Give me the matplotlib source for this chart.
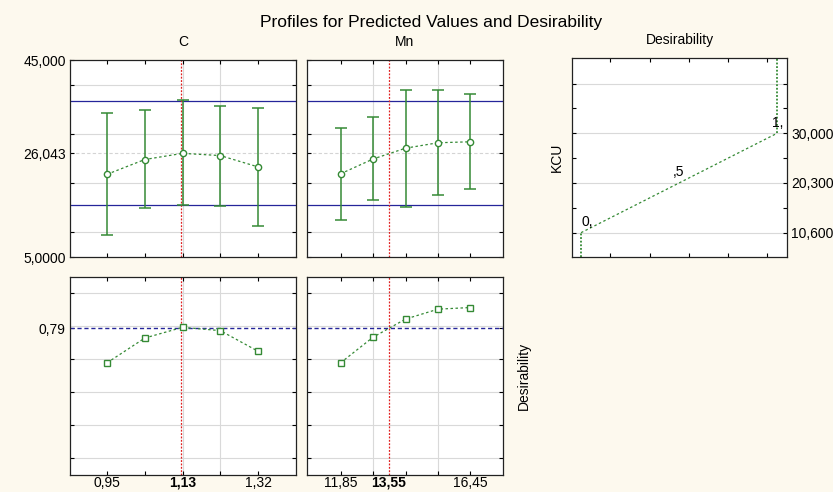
import matplotlib
matplotlib.use('Agg')
import matplotlib.pyplot as plt
from matplotlib.transforms import blended_transform_factory

plt.rcParams['font.family'] = ['Liberation Sans', 'DejaVu Sans']

# --- data ---
c_levels = [0.95, 1.0425, 1.135, 1.2275, 1.32]
c_kcu = [21.8, 24.8, 26.05, 25.6, 23.3]
c_low = [9.4, 15.0, 15.5, 15.4, 11.3]
c_high = [34.3, 34.8, 36.9, 35.7, 35.2]
c_desir = [0.58, 0.73, 0.795, 0.775, 0.65]

mn_levels = [11.85, 13.0, 14.15, 15.3, 16.45]
mn_kcu = [21.9, 24.9, 27.1, 28.2, 28.4]
mn_low = [12.5, 16.5, 15.2, 17.5, 18.9]
mn_high = [31.2, 33.4, 38.9, 39.0, 38.0]
mn_desir = [0.58, 0.735, 0.845, 0.905, 0.915]

c_current = 1.13
mn_current = 13.55
kcu_current = 26.043
ci_low, ci_high = 15.5, 36.7
desir_current = 0.79

desir_pts = [0.0, 0.5, 1.0]
desir_kcu = [10.6, 20.3, 30.0]
desir_pt_labels = ['0,', ',5', '1,']

BG = '#fdf9ee'
GREEN = '#358a35'
BLUE = '#25259a'
RED = '#e02020'
GRID = '#d9d9d9'
FS = 10

fig = plt.figure(figsize=(8.33, 4.92), dpi=100, facecolor=BG)

ax_c = fig.add_axes([0.084, 0.4776, 0.2713, 0.4004])
ax_mn = fig.add_axes([0.3685, 0.4776, 0.2353, 0.4004])
ax_d = fig.add_axes([0.6867, 0.4776, 0.2581, 0.4045])
ax_cb = fig.add_axes([0.084, 0.0346, 0.2713, 0.4024])
ax_mnb = fig.add_axes([0.3685, 0.0346, 0.2353, 0.4024])


def style(ax):
    ax.tick_params(direction='in', length=3, width=0.8, labelsize=FS,
                   top=True, right=True, pad=3)
    for s in ax.spines.values():
        s.set_linewidth(0.9)
        s.set_color('#222222')


def factor_panels(ax_top, ax_bot, levels, kcu, low, high, desir, current,
                  xlim, grid_x, labels, show_y):
    # top: predicted KCU with confidence bars
    style(ax_top)
    ax_top.set_xlim(*xlim)
    ax_top.set_ylim(5, 45)
    for g in [10, 20, 30, 40]:
        ax_top.axhline(g, color=GRID, lw=0.8, zorder=0)
    for g in grid_x:
        ax_top.axvline(g, color=GRID, lw=0.8, zorder=0)
    ax_top.axhline(kcu_current, color='#d4d4d4', lw=0.8, ls=(0, (3, 2)), zorder=0)
    ax_top.axhline(ci_high, color=BLUE, lw=0.9)
    ax_top.axhline(ci_low, color=BLUE, lw=0.9)
    ax_top.axvline(current, color=RED, lw=0.9, ls=(0, (1.5, 1.2)))
    yerr = [[k - l for k, l in zip(kcu, low)], [h - k for k, h in zip(kcu, high)]]
    ax_top.errorbar(levels, kcu, yerr=yerr, fmt='none', ecolor=GREEN,
                    elinewidth=1.1, capsize=4.5, capthick=1.1)
    ax_top.plot(levels, kcu, color=GREEN, lw=0.9, ls=(0, (2, 2)),
                marker='o', ms=4.5, mfc='white', mec=GREEN, mew=1.0)
    ax_top.set_xticks(levels)
    ax_top.set_xticklabels([])
    ax_top.set_yticks([5, 10, 20, kcu_current, 30, 40, 45])
    if show_y:
        ax_top.set_yticklabels(['5,0000', '', '', '26,043', '', '', '45,000'])
    else:
        ax_top.set_yticklabels([])

    # bottom: desirability
    style(ax_bot)
    ax_bot.set_xlim(*xlim)
    ax_bot.set_ylim(-0.1, 1.1)
    for g in [0.0, 0.2, 0.4, 0.6, 0.8, 1.0]:
        ax_bot.axhline(g, color=GRID, lw=0.8, zorder=0)
    for g in grid_x:
        ax_bot.axvline(g, color=GRID, lw=0.8, zorder=0)
    ax_bot.axhline(desir_current, color=BLUE, lw=1.0, ls=(0, (3, 2)))
    ax_bot.axvline(current, color=RED, lw=0.9, ls=(0, (1.5, 1.2)))
    ax_bot.plot(levels, desir, color=GREEN, lw=0.9, ls=(0, (2, 2)),
                marker='s', ms=5, mfc='white', mec=GREEN, mew=1.0)
    ax_bot.set_yticks([0.0, 0.2, 0.4, 0.6, desir_current, 1.0])
    if show_y:
        ax_bot.set_yticklabels(['', '', '', '', '0,79', ''])
    else:
        ax_bot.set_yticklabels([])
    ax_bot.set_xticks(levels)
    ax_bot.set_xticklabels([])
    # labelled ticks: first, current (bold), last
    trans = blended_transform_factory(ax_bot.transData, fig.transFigure)
    for x, txt, bold in labels:
        ax_bot.text(x, 0.005, txt, ha='center', va='bottom', fontsize=FS,
                    fontweight='bold' if bold else 'normal', transform=trans)


factor_panels(ax_c, ax_cb, c_levels, c_kcu, c_low, c_high, c_desir, c_current,
              (0.859, 1.413), [1.135, 1.2275],
              [(0.95, '0,95', False), (1.135, '1,13', True), (1.32, '1,32', False)],
              True)
factor_panels(ax_mn, ax_mnb, mn_levels, mn_kcu, mn_low, mn_high, mn_desir, mn_current,
              (10.66, 17.6), [13.0, 15.3],
              [(11.85, '11,85', False), (13.55, '13,55', True), (16.45, '16,45', False)],
              False)

ax_c.set_title('C', fontsize=FS, pad=10)
ax_mn.set_title('Mn', fontsize=FS, pad=10)

# desirability function panel
style(ax_d)
ax_d.set_xlim(-0.046, 1.051)
ax_d.set_ylim(5.85, 44.7)
for g in [10.6, 20.3, 30.0, 39.7]:
    ax_d.axhline(g, color=GRID, lw=0.8, zorder=0)
ax_d.plot(desir_pts, desir_kcu, color=GREEN, lw=0.9, ls=(0, (2, 2)))
ax_d.plot([desir_pts[0], desir_pts[0]], [5.85, desir_kcu[0]], color=GREEN, lw=1.3, ls=(0, (1, 1)))
ax_d.plot([desir_pts[-1], desir_pts[-1]], [desir_kcu[-1], 44.7], color=GREEN, lw=1.3, ls=(0, (1, 1)))
for x, y, t in zip(desir_pts, desir_kcu, desir_pt_labels):
    ax_d.text(x + (0.005 if x == 1 else 0.0), y + 0.7, t, fontsize=FS,
              ha='center' if x > 0 else 'left', va='bottom')
ax_d.set_xticks([0.15, 0.35, 0.55, 0.75, 0.95])
ax_d.set_xticklabels([])
ax_d.set_yticks([10.6, 15.45, 20.3, 25.15, 30.0, 34.85, 39.7])
ax_d.set_yticklabels(['10,600', '', '20,300', '', '30,000', '', ''])
ax_d.tick_params(axis='y', labelleft=False, labelright=True)
ax_d.set_ylabel('KCU', fontsize=FS, labelpad=6)
ax_d.set_title('Desirability', fontsize=FS, pad=10)

ax_mnb.yaxis.set_label_position('right')
ax_mnb.set_ylabel('Desirability', fontsize=FS, labelpad=10)

fig.text(0.517, 0.955, 'Profiles for Predicted Values and Desirability', ha='center',
         va='center', fontsize=12.5)

fig.savefig('out.png', dpi=100, facecolor=BG)
